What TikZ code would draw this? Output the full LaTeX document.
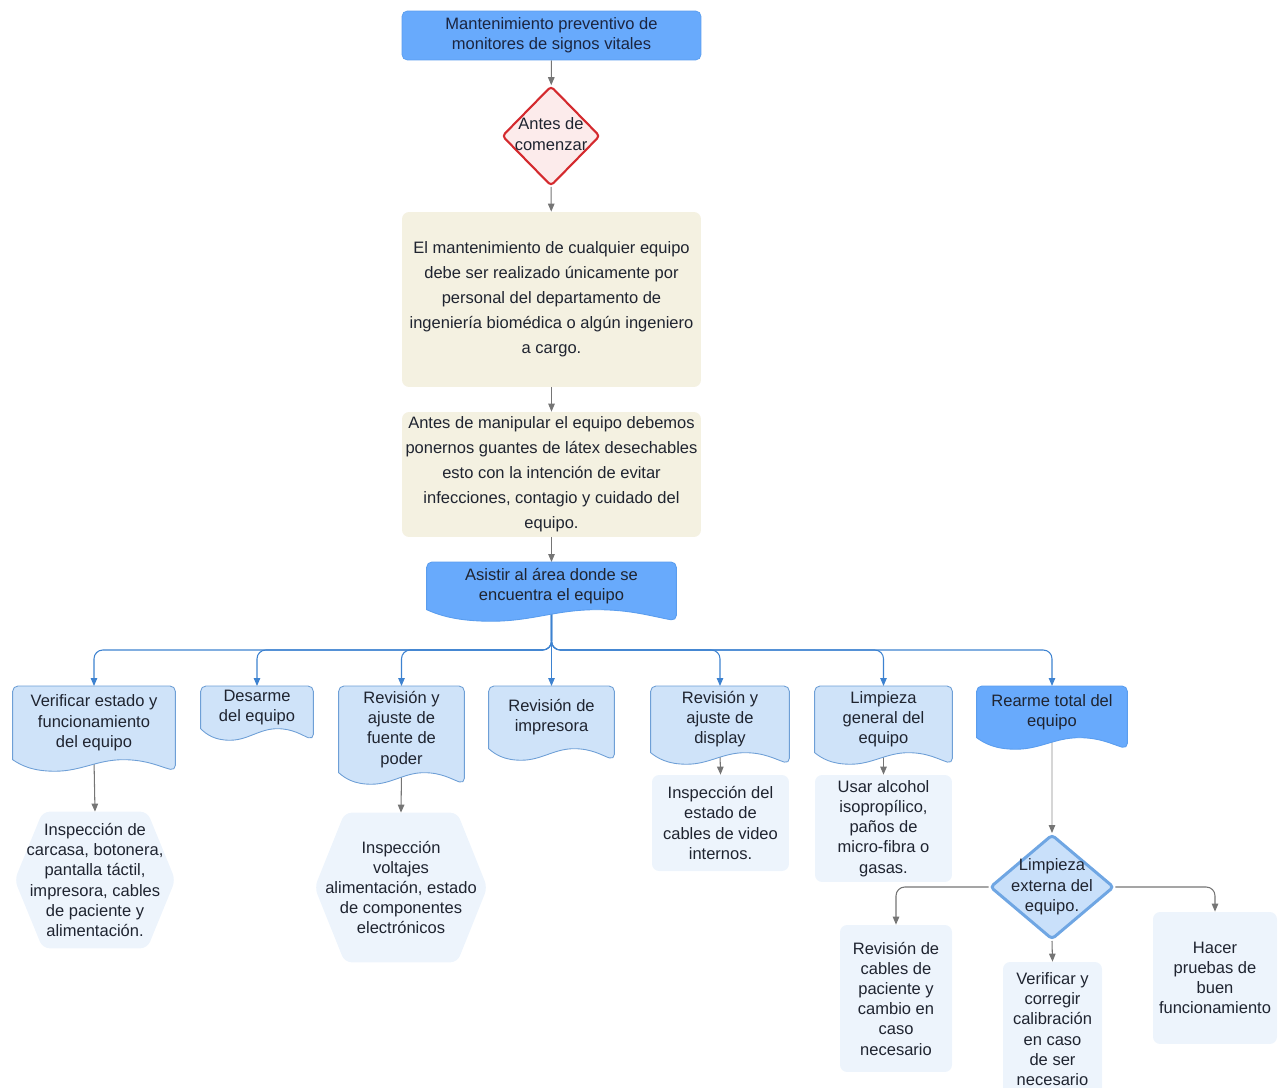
\documentclass[tikz,border=0pt]{standalone}
\usepackage{fontspec}
\setmainfont{Liberation Sans}
\usetikzlibrary{positioning,arrows.meta,shapes.geometric,calc}
\definecolor{cDark}{HTML}{68AAFC}
\definecolor{cDarkS}{HTML}{5A9DEE}
\definecolor{cDoc}{HTML}{CFE3F9}
\definecolor{cDocS}{HTML}{6E9FD6}
\definecolor{cLite}{HTML}{EDF4FC}
\definecolor{cBeige}{HTML}{F4F1E1}
\definecolor{cRed}{HTML}{D42A2E}
\definecolor{cPink}{HTML}{FCEBEB}
\definecolor{cDec}{HTML}{C9E0FA}
\definecolor{cDecS}{HTML}{6FA6E3}
\definecolor{cBus}{HTML}{3D82D0}
\definecolor{cGray}{HTML}{757575}
\definecolor{cFaint}{HTML}{D6D6D6}
\definecolor{cText}{HTML}{1F2430}
\definecolor{cNavy}{HTML}{1B2540}
\pgfdeclarelayer{edges}
\pgfdeclarelayer{background}
\pgfsetlayers{edges,background,main}
\tikzset{
  txt/.style={text=cText,font=\fontsize{9.4}{11.5}\selectfont},
  base/.style={txt,align=center,inner sep=0pt},
  titlebox/.style={base,rectangle,rounded corners=3pt,fill=cDark,draw=cDarkS,line width=0.4pt,text=cNavy},
  note/.style={base,rectangle,rounded corners=4pt,fill=cBeige,font=\fontsize{9.4}{14.2}\selectfont},
  docbox/.style={base,rectangle,anchor=north},
  hexbox/.style={base,rectangle},
  lite/.style={base,rectangle,rounded corners=4pt,fill=cLite},
  reddec/.style={txt,diamond,draw=cRed,fill=cPink,line width=1.2pt,rounded corners=2pt,inner sep=0pt},
  bluedec/.style={txt,diamond,draw=cDecS,fill=cDec,line width=1.7pt,rounded corners=2pt,inner sep=0pt},
  garrow/.style={-{Triangle[length=0.16cm,width=0.13cm]},line width=0.6pt,draw=cGray},
  barrow/.style={-{Triangle[length=0.16cm,width=0.13cm]},line width=0.6pt,draw=cBus,rounded corners=5pt},
  farrow/.style={-{Triangle[length=0.16cm,width=0.13cm,color=cGray]},line width=0.6pt,draw=cFaint},
}
\begin{document}
\begin{tikzpicture}[x=0.02cm,y=-0.02cm]
  \useasboundingbox (0,0) rectangle (1281,1088);
  % main column
  \node[titlebox,minimum width=5.98cm,minimum height=0.98cm] (titulo) at (551.5,35.5) {Mantenimiento preventivo de\\monitores de signos vitales};
  \node[reddec,minimum width=1.96cm,minimum height=2cm] (antes) at (551,136) {\makebox[0pt]{\begin{tabular}{@{}c@{}}Antes de\\comenzar\end{tabular}}};
  \node[note,minimum width=5.98cm,minimum height=3.5cm] (nota1) at (551.5,299.5) {El mantenimiento de cualquier equipo\\debe ser realizado únicamente por\\personal del departamento de\\ingeniería biomédica o algún ingeniero\\a cargo.};
  \node[note,minimum width=5.98cm,minimum height=2.5cm] (nota2) at (551.5,474.5) {Antes de manipular el equipo debemos\\ponernos guantes de látex desechables\\esto con la intención de evitar\\infecciones, contagio y cuidado del\\equipo.};
  \node[docbox,minimum width=4.98cm,minimum height=0.94cm] (asistir) at (551.5,562) {Asistir al área donde se\\encuentra el equipo};
  % second row
  \node[docbox,minimum width=3.24cm,minimum height=1.46cm] (verif) at (94,686) {Verificar estado y\\funcionamiento\\del equipo};
  \node[docbox,minimum width=2.24cm,minimum height=0.84cm] (desarme) at (257,686) {Desarme\\del equipo};
  \node[docbox,minimum width=2.5cm,minimum height=1.72cm] (fuente) at (401.5,686) {Revisión y\\ajuste de\\fuente de\\poder};
  \node[docbox,minimum width=2.5cm,minimum height=1.24cm] (impresora) at (551.5,686) {Revisión de\\impresora};
  \node[docbox,minimum width=2.76cm,minimum height=1.32cm] (display) at (720,686) {Revisión y\\ajuste de\\display};
  \node[docbox,minimum width=2.74cm,minimum height=1.32cm] (limpgen) at (883.5,686) {Limpieza\\general del\\equipo};
  \node[docbox,minimum width=3cm,minimum height=1.02cm] (rearme) at (1052,686) {Rearme total del\\equipo};
  % third row
  \node[hexbox,minimum width=3.2cm,minimum height=2.72cm] (hexa) at (95,880) {Inspección de\\carcasa, botonera,\\pantalla táctil,\\impresora, cables\\de paciente y\\alimentación.};
  \node[hexbox,minimum width=3.44cm,minimum height=2.98cm] (hexb) at (401,887.5) {Inspección\\voltajes\\alimentación, estado\\de componentes\\electrónicos};
  \node[lite,minimum width=2.74cm,minimum height=1.92cm] (video) at (720.5,823) {Inspección del\\estado de\\cables de video\\internos.};
  \node[lite,minimum width=2.74cm,minimum height=2.14cm] (alcohol) at (883.5,828.5) {Usar alcohol\\isopropílico,\\paños de\\micro-fibra o\\gasas.};
  \node[bluedec,minimum width=2.48cm,minimum height=2.1cm] (limpext) at (1052,887) {\makebox[0pt]{\begin{tabular}{@{}c@{}}Limpieza\\externa del\\equipo.\end{tabular}}};
  \node[lite,minimum width=2.24cm,minimum height=2.94cm] (cables) at (896,998.5) {Revisión de\\cables de\\paciente y\\cambio en\\caso\\necesario};
  \node[lite,minimum width=1.98cm,minimum height=2.68cm] (calib) at (1052.5,1029) {Verificar y\\corregir\\calibración\\en caso\\de ser\\necesario};
  \node[lite,minimum width=2.48cm,minimum height=2.64cm] (pruebas) at (1215,978) {Hacer\\pruebas de\\buen\\funcionamiento};

  % document and hexagon outlines
  \begin{pgfonlayer}{background}
    \foreach \nd/\fc/\dc in {asistir/cDark/cDarkS,verif/cDoc/cDocS,desarme/cDoc/cDocS,fuente/cDoc/cDocS,impresora/cDoc/cDocS,display/cDoc/cDocS,limpgen/cDoc/cDocS,rearme/cDark/cDarkS}
      \filldraw[fill=\fc,draw=\dc,line width=0.5pt] let \p1=(\nd.south west),\p2=(\nd.north east),\n1={\x2-\x1},\n2={0.22cm} in
        (\x1,\y1) [rounded corners=3pt] -- (\x1,\y2) -- (\x2,\y2) -- (\x2,{\y1-\n2}) [sharp corners]
        .. controls ({\x1+0.9*\n1},{\y1-0.6*\n2}) and ({\x1+0.82*\n1},{\y1}) .. ({\x1+0.68*\n1},{\y1})
        .. controls ({\x1+0.52*\n1},{\y1}) and ({\x1+0.42*\n1},{\y1-1.05*\n2}) .. ({\x1+0.26*\n1},{\y1-1.05*\n2})
        .. controls ({\x1+0.12*\n1},{\y1-1.05*\n2}) and ({\x1+0.05*\n1},{\y1-0.5*\n2}) .. (\x1,\y1) -- cycle;
    \foreach \nd/\ins in {hexa/0.56cm,hexb/0.6cm}
      \fill[cLite,rounded corners=4pt] let \p1=(\nd.south west),\p2=(\nd.north east) in
        (\x1,{0.5*\y1+0.5*\y2}) -- ({\x1+\ins},\y2) -- ({\x2-\ins},\y2) -- (\x2,{0.5*\y1+0.5*\y2})
        -- ({\x2-\ins},\y1) -- ({\x1+\ins},\y1) -- cycle;
  \end{pgfonlayer}

  % connectors
  \begin{pgfonlayer}{edges}
    \draw[garrow] (titulo) -- (antes);
    \draw[garrow] (antes) -- (nota1);
    \draw[garrow] (nota1) -- (nota2);
    \draw[garrow] (nota2) -- (asistir);
    \coordinate (bus) at (551.5,650);
    \foreach \t in {verif,desarme,fuente,display,limpgen,rearme}
      \draw[barrow] (asistir.south) -- (bus) -| (\t.north);
    \draw[barrow] (asistir.south) -- (impresora.north);
    \draw[garrow] (verif.south) -- (hexa.north);
    \draw[garrow] (fuente.south) -- (hexb.north);
    \draw[garrow] (display.south) -- (video.north);
    \draw[garrow] (limpgen.south) -- (alcohol.north);
    \draw[farrow] (rearme.south) -- (limpext.north);
    \draw[garrow,rounded corners=5pt] (limpext.west) -| (cables.north);
    \draw[garrow,rounded corners=5pt] (limpext.east) -| (pruebas.north);
    \draw[garrow] (limpext.south) -- (calib.north);
  \end{pgfonlayer}
\end{tikzpicture}
\end{document}
